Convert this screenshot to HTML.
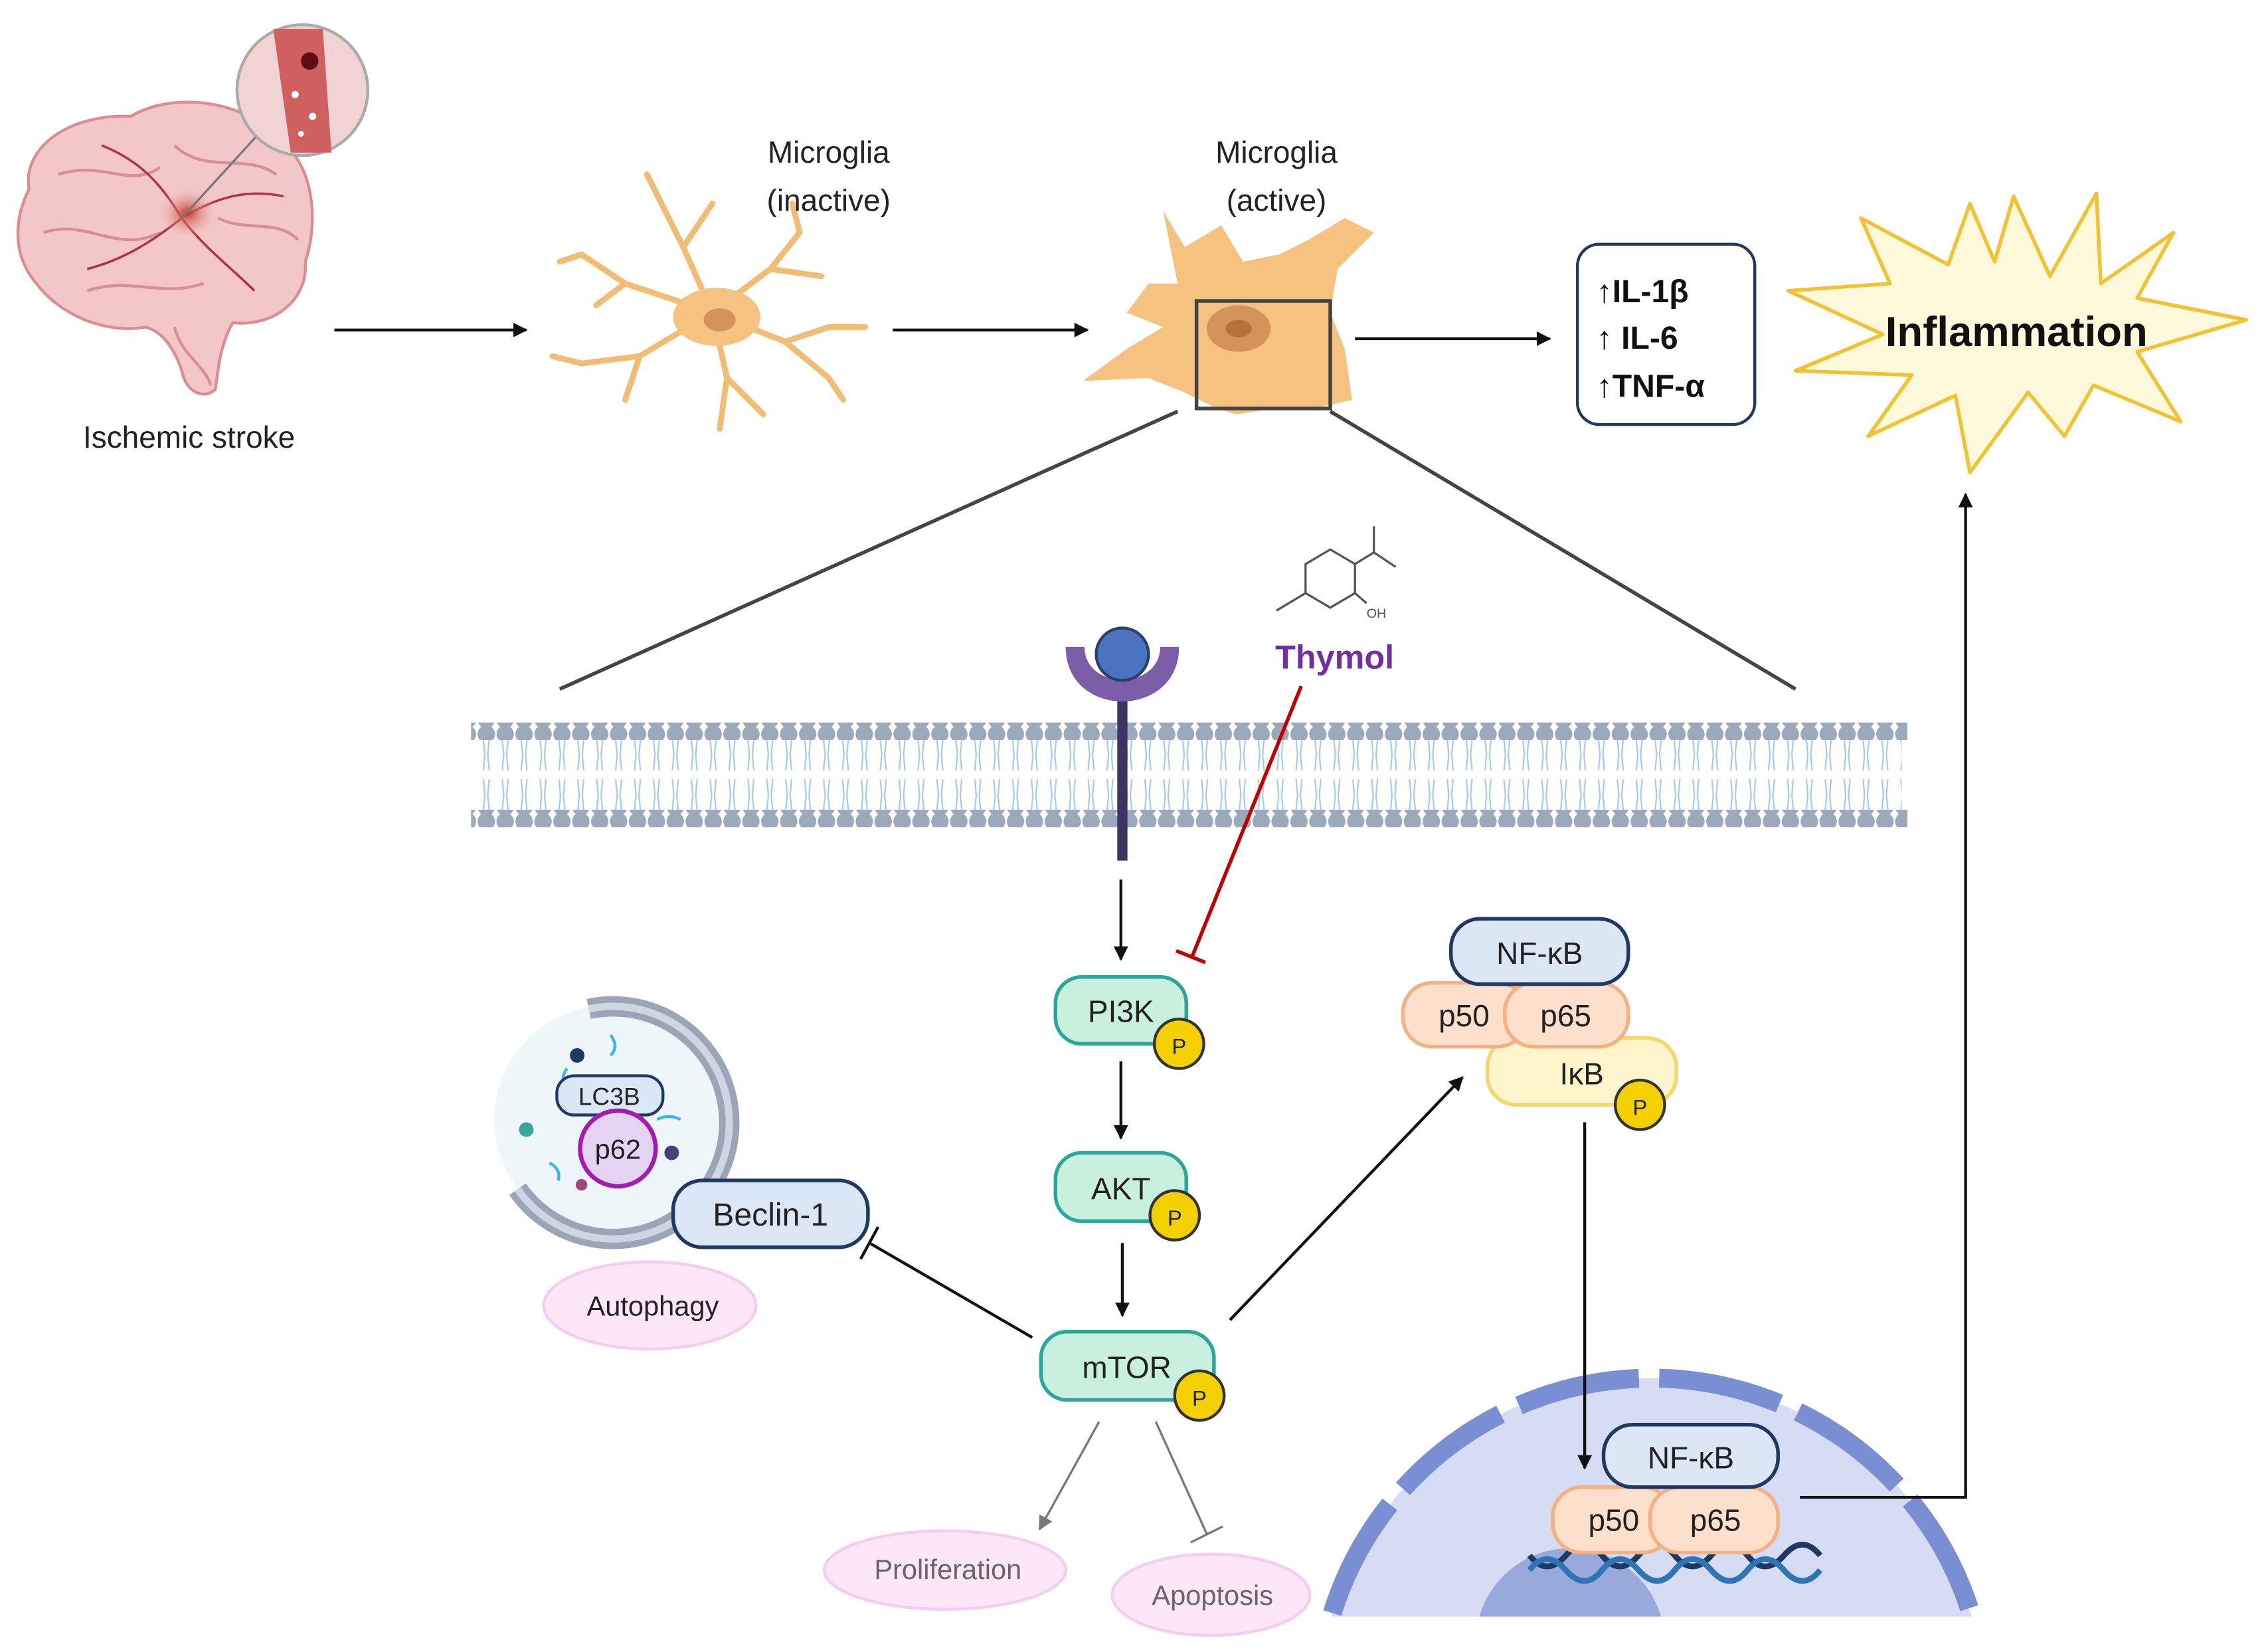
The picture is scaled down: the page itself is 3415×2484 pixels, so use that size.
<!DOCTYPE html>
<html><head><meta charset="utf-8"><style>
html,body{margin:0;padding:0;background:#fff;width:3415px;height:2484px;overflow:hidden;}
svg{display:block;font-family:"Liberation Sans","DejaVu Sans",sans-serif;}
</style></head><body>
<svg width="3415" height="2484" viewBox="0 0 1560 1135" preserveAspectRatio="none" xmlns="http://www.w3.org/2000/svg">
<defs>
<marker id="ah" markerWidth="10" markerHeight="10" refX="9" refY="5" orient="auto" markerUnits="userSpaceOnUse"><path d="M0,0 L10,5 L0,10 z" fill="#111"/></marker>
<marker id="ahg" markerWidth="10" markerHeight="10" refX="9" refY="5" orient="auto" markerUnits="userSpaceOnUse"><path d="M0,0 L10,5 L0,10 z" fill="#777"/></marker>
<clipPath id="nucclip"><rect x="0" y="0" width="1560" height="1112"/></clipPath>
<radialGradient id="brainr" cx="0.55" cy="0.45" r="0.25"><stop offset="0" stop-color="#c0392b"/><stop offset="1" stop-color="#f0b8b8" stop-opacity="0"/></radialGradient>
<pattern id="tailp" x="328" y="509" width="13" height="48" patternUnits="userSpaceOnUse">
<path d="M4.5,0 L5.5,10 L4.5,21 M8.5,0 L7.5,10 L8.5,21 M4.5,27 L5.5,38 L4.5,48 M8.5,27 L7.5,38 L8.5,48" stroke="#a9c8e6" stroke-width="1" fill="none"/>
</pattern>
<pattern id="headp" x="328" y="0" width="13" height="10" patternUnits="userSpaceOnUse">
<circle cx="6.5" cy="5" r="6" fill="#9ca9bb"/>
</pattern>
</defs>

<!-- Brain -->
<g>
<path d="M20,130 C15,100 50,78 90,80 C120,62 170,70 190,95 C215,110 220,150 210,180 C212,205 190,225 160,222 C150,240 150,258 148,268 C140,275 128,270 125,255 C120,240 112,228 100,225 C70,230 40,215 25,195 C8,175 10,150 20,130 z" fill="#f3c7c7" stroke="#d88f92" stroke-width="2"/>
<path d="M40,120 C70,110 90,130 110,115 M30,160 C60,150 80,175 110,160 M120,100 C140,120 170,105 190,120 M60,200 C90,190 110,205 140,195 M150,150 C170,160 190,150 205,165 M120,225 C125,245 140,250 145,265" fill="none" stroke="#d88f92" stroke-width="2"/>
<path d="M125,150 C100,170 80,180 60,185 M125,150 C140,170 160,185 175,200 M125,150 C110,125 95,110 70,100 M125,150 C150,135 170,130 195,135" fill="none" stroke="#b0353a" stroke-width="1.6"/>
<ellipse cx="125" cy="150" rx="40" ry="35" fill="url(#brainr)"/>
<line x1="125" y1="150" x2="178" y2="92" stroke="#777" stroke-width="1.5"/>
<circle cx="208" cy="62" r="45" fill="#f2d3d3" stroke="#aaa" stroke-width="2"/>
<path d="M188,20 L200,105 L228,105 L222,20 z" fill="#d0605f"/>
<circle cx="213" cy="42" r="6" fill="#5a0f12"/>
<circle cx="203" cy="65" r="2.5" fill="#fff"/><circle cx="215" cy="80" r="2.5" fill="#fff"/><circle cx="207" cy="92" r="2" fill="#fff"/>
<text x="130" y="308" font-size="21" text-anchor="middle" fill="#222">Ischemic stroke</text>
</g>

<line x1="230" y1="227" x2="362" y2="227" stroke="#111" stroke-width="2" marker-end="url(#ah)"/>

<!-- Microglia inactive -->
<g stroke="#f3bc74" stroke-width="4" fill="none" stroke-linecap="round">
<path d="M490,215 L470,170 L455,140 M470,170 L490,140 M455,140 L445,120"/>
<path d="M490,215 L430,195 L400,175 M430,195 L410,210 M400,175 L385,180"/>
<path d="M490,215 L440,245 L400,250 M440,245 L430,275 M400,250 L380,245"/>
<path d="M490,215 L500,260 L495,295 M500,260 L525,285"/>
<path d="M490,215 L540,235 L570,260 M540,235 L570,225 L595,225 M570,260 L580,275"/>
<path d="M490,215 L530,185 L550,160 M530,185 L565,190 M550,160 L545,140"/>
</g>
<ellipse cx="493" cy="218" rx="30" ry="20" fill="#f5c27f"/>
<ellipse cx="495" cy="220" rx="11" ry="8" fill="#d4935a"/>
<text x="570" y="112" font-size="21" text-anchor="middle" fill="#222">Microglia</text>
<text x="570" y="145" font-size="21" text-anchor="middle" fill="#222">(inactive)</text>

<line x1="614" y1="227" x2="748" y2="227" stroke="#111" stroke-width="2" marker-end="url(#ah)"/>

<!-- Microglia active -->
<path d="M800,145 L815,170 L840,155 L855,180 L880,175 L900,165 L925,150 L945,160 L920,185 L915,215 L925,240 L930,275 L900,282 L870,282 L850,285 L835,280 L815,270 L790,260 L745,262 L775,240 L800,225 L775,215 L790,195 L810,195 z" fill="#f5c27f"/>
<ellipse cx="852" cy="226" rx="22" ry="16" fill="#d4935a"/>
<ellipse cx="852" cy="226" rx="9" ry="6" fill="#b8703c"/>
<rect x="823" y="207" width="92" height="74" fill="none" stroke="#444" stroke-width="2.5"/>
<text x="878" y="112" font-size="21" text-anchor="middle" fill="#222">Microglia</text>
<text x="878" y="145" font-size="21" text-anchor="middle" fill="#222">(active)</text>

<line x1="932" y1="233" x2="1066" y2="233" stroke="#111" stroke-width="2" marker-end="url(#ah)"/>

<!-- cytokine box -->
<rect x="1085" y="168" width="122" height="124" rx="15" fill="#fff" stroke="#1f3864" stroke-width="2"/>
<g font-size="22" font-weight="bold" fill="#111">
<text x="1098" y="208">↑IL-1β</text>
<text x="1098" y="240">↑ IL-6</text>
<text x="1098" y="273">↑TNF-α</text>
</g>

<!-- starburst -->
<polygon points="1385,135 1410,190 1442,133 1445,195 1495,160 1470,205 1545,220 1470,242 1500,290 1440,265 1420,300 1395,270 1355,325 1345,272 1285,300 1315,258 1235,255 1295,230 1230,200 1300,195 1280,150 1340,182 1355,140 1372,180" fill="#fff9dc" stroke="#f2c233" stroke-width="2.5" stroke-linejoin="round"/>
<text x="1387" y="238" font-size="29" font-weight="bold" text-anchor="middle" fill="#111">Inflammation</text>

<!-- zoom lines -->
<line x1="810" y1="283" x2="385" y2="474" stroke="#444" stroke-width="2.5"/>
<line x1="915" y1="283" x2="1235" y2="474" stroke="#444" stroke-width="2.5"/>

<!-- membrane -->
<rect x="328" y="509" width="980" height="48" fill="url(#tailp)"/>
<rect x="324" y="497" width="988" height="12" fill="url(#headp)"/>
<rect x="324" y="557" width="988" height="12" fill="url(#headp)"/>

<!-- receptor -->
<line x1="772" y1="470" x2="772" y2="592" stroke="#3d3461" stroke-width="7"/>
<path d="M733,445 C733,495 811,495 811,445 L798,445 C798,475 746,475 746,445 z" fill="#7b5ea7"/>
<circle cx="772" cy="450" r="18" fill="#4a74c0" stroke="#2b3f6b" stroke-width="2"/>

<!-- thymol molecule -->
<g stroke="#555" stroke-width="1.5" fill="none">
<polygon points="898,388 915,378 932,388 932,408 915,418 898,408"/>
<path d="M932,388 L945,380 L945,362 M945,380 L960,390"/>
<path d="M898,408 L878,420"/>
<path d="M932,408 L940,415"/>
</g>
<text x="940" y="425" font-size="9" fill="#555">OH</text>
<text x="918" y="460" font-size="23" font-weight="bold" text-anchor="middle" fill="#7030a0">Thymol</text>

<!-- red inhibitor -->
<line x1="895" y1="472" x2="820" y2="658" stroke="#c00000" stroke-width="2.5"/>
<line x1="809" y1="654" x2="829" y2="662" stroke="#c00000" stroke-width="2.5"/>

<line x1="771" y1="605" x2="771" y2="660" stroke="#111" stroke-width="2" marker-end="url(#ah)"/>

<!-- PI3K -->
<rect x="726" y="672" width="90" height="46" rx="18" fill="#c9f0df" stroke="#2aa79b" stroke-width="2.5"/>
<text x="771" y="703" font-size="21" text-anchor="middle" fill="#222">PI3K</text>
<circle cx="811" cy="718" r="17" fill="#f5d000" stroke="#333" stroke-width="2"/>
<text x="811" y="725" font-size="15" text-anchor="middle" fill="#222">P</text>

<line x1="771" y1="730" x2="771" y2="783" stroke="#111" stroke-width="2" marker-end="url(#ah)"/>

<!-- AKT -->
<rect x="726" y="793" width="90" height="47" rx="18" fill="#c9f0df" stroke="#2aa79b" stroke-width="2.5"/>
<text x="771" y="825" font-size="21" text-anchor="middle" fill="#222">AKT</text>
<circle cx="808" cy="836" r="17" fill="#f5d000" stroke="#333" stroke-width="2"/>
<text x="808" y="843" font-size="15" text-anchor="middle" fill="#222">P</text>

<line x1="772" y1="855" x2="772" y2="905" stroke="#111" stroke-width="2" marker-end="url(#ah)"/>

<!-- mTOR -->
<rect x="716" y="916" width="119" height="47" rx="18" fill="#c9f0df" stroke="#2aa79b" stroke-width="2.5"/>
<text x="775" y="948" font-size="21" text-anchor="middle" fill="#222">mTOR</text>
<circle cx="825" cy="960" r="17" fill="#f5d000" stroke="#333" stroke-width="2"/>
<text x="825" y="967" font-size="15" text-anchor="middle" fill="#222">P</text>

<!-- mTOR connectors -->
<line x1="710" y1="920" x2="598" y2="855" stroke="#111" stroke-width="2"/>
<line x1="592" y1="866" x2="604" y2="844" stroke="#111" stroke-width="2"/>
<line x1="846" y1="908" x2="1006" y2="741" stroke="#111" stroke-width="2" marker-end="url(#ah)"/>
<line x1="756" y1="978" x2="715" y2="1052" stroke="#777" stroke-width="1.5" marker-end="url(#ahg)"/>
<line x1="795" y1="978" x2="830" y2="1055" stroke="#777" stroke-width="1.5"/>
<line x1="819" y1="1061" x2="841" y2="1050" stroke="#777" stroke-width="1.5"/>

<ellipse cx="650" cy="1080" rx="83" ry="27" fill="#fde6f8" stroke="#f6cdef" stroke-width="2"/>
<text x="652" y="1086" font-size="19" text-anchor="middle" fill="#666">Proliferation</text>
<ellipse cx="833" cy="1097" rx="68" ry="28" fill="#fde6f8" stroke="#f6cdef" stroke-width="2"/>
<text x="834" y="1104" font-size="19" text-anchor="middle" fill="#666">Apoptosis</text>

<!-- autophagosome -->
<circle cx="418" cy="770" r="78" fill="#eef6fa"/>
<path d="M405,694 A80,80 0 1,1 356,818" fill="none" stroke="#9aa6b8" stroke-width="14"/>
<path d="M405,694 A80,80 0 1,1 356,818" fill="none" stroke="#cfd6e1" stroke-width="5"/>
<circle cx="397" cy="726" r="5" fill="#1f3864"/>
<circle cx="362" cy="777" r="5" fill="#3aa39a"/>
<circle cx="462" cy="793" r="5" fill="#4a3f7a"/>
<circle cx="400" cy="815" r="4" fill="#a2467e"/>
<g stroke="#3ab6e8" stroke-width="2" fill="none">
<path d="M420,712 q6,8 0,14"/><path d="M378,800 q8,4 6,12"/><path d="M452,770 q8,-4 16,0"/><path d="M390,735 q-6,8 2,14"/>
</g>
<rect x="383" y="740" width="73" height="27" rx="12" fill="#dbe7f5" stroke="#1f3864" stroke-width="2"/>
<text x="419" y="760" font-size="17" text-anchor="middle" fill="#222">LC3B</text>
<circle cx="425" cy="790" r="26" fill="#e4d3f3" stroke="#a21caf" stroke-width="3"/>
<text x="425" y="797" font-size="19" text-anchor="middle" fill="#222">p62</text>
<rect x="463" y="812" width="134" height="46" rx="20" fill="#dbe7f5" stroke="#1f3864" stroke-width="2.5"/>
<text x="530" y="843" font-size="22" text-anchor="middle" fill="#222">Beclin-1</text>
<ellipse cx="447" cy="898" rx="73" ry="30" fill="#fde6f8" stroke="#f6cdef" stroke-width="2"/>
<text x="449" y="905" font-size="19" text-anchor="middle" fill="#222">Autophagy</text>

<!-- NF-kB complex top -->
<rect x="1023" y="714" width="130" height="46" rx="20" fill="#fff5cc" stroke="#f7d66a" stroke-width="2.5"/>
<text x="1088" y="746" font-size="21" text-anchor="middle" fill="#222">IκB</text>
<rect x="965" y="676" width="85" height="44" rx="20" fill="#fde0cc" stroke="#f4b183" stroke-width="2.5"/>
<text x="1007" y="706" font-size="21" text-anchor="middle" fill="#222">p50</text>
<rect x="1035" y="676" width="85" height="44" rx="20" fill="#fde0cc" stroke="#f4b183" stroke-width="2.5"/>
<text x="1077" y="706" font-size="21" text-anchor="middle" fill="#222">p65</text>
<rect x="998" y="632" width="122" height="45" rx="20" fill="#dbe7f5" stroke="#1f3864" stroke-width="2.5"/>
<text x="1059" y="663" font-size="21" text-anchor="middle" fill="#222">NF-κB</text>
<circle cx="1128" cy="760" r="17" fill="#f5d000" stroke="#333" stroke-width="2"/>
<text x="1128" y="767" font-size="15" text-anchor="middle" fill="#222">P</text>

<!-- nucleus -->
<g clip-path="url(#nucclip)">
<circle cx="1136" cy="1178" r="230" fill="#d6dcf3"/>
<circle cx="1136" cy="1178" r="230" fill="none" stroke="#7a8fd3" stroke-width="13" stroke-dasharray="85 14"/>
<circle cx="1080" cy="1130" r="65" fill="#9aa9dc"/>
</g>

<line x1="1090" y1="772" x2="1090" y2="1010" stroke="#111" stroke-width="2" marker-end="url(#ah)"/>

<!-- DNA -->
<g fill="none" stroke-width="4">
<path d="M1052,1070 q12,15 25,0 t25,0 t25,0 t25,0 t25,0 t25,0 t25,0 t25,0" stroke="#1f3864"/>
<path d="M1052,1080 q12,-15 25,0 t25,0 t25,0 t25,0 t25,0 t25,0 t25,0 t25,0" stroke="#2e75b6"/>
</g>
<rect x="1068" y="1023" width="82" height="45" rx="20" fill="#fde0cc" stroke="#f4b183" stroke-width="2.5"/>
<text x="1110" y="1053" font-size="21" text-anchor="middle" fill="#222">p50</text>
<rect x="1135" y="1023" width="88" height="45" rx="20" fill="#fde0cc" stroke="#f4b183" stroke-width="2.5"/>
<text x="1180" y="1053" font-size="21" text-anchor="middle" fill="#222">p65</text>
<rect x="1103" y="980" width="120" height="43" rx="20" fill="#dbe7f5" stroke="#1f3864" stroke-width="2.5"/>
<text x="1163" y="1010" font-size="21" text-anchor="middle" fill="#222">NF-κB</text>

<polyline points="1238,1030 1352,1030 1352,340" fill="none" stroke="#111" stroke-width="2" marker-end="url(#ah)"/>
</svg>
</body></html>
